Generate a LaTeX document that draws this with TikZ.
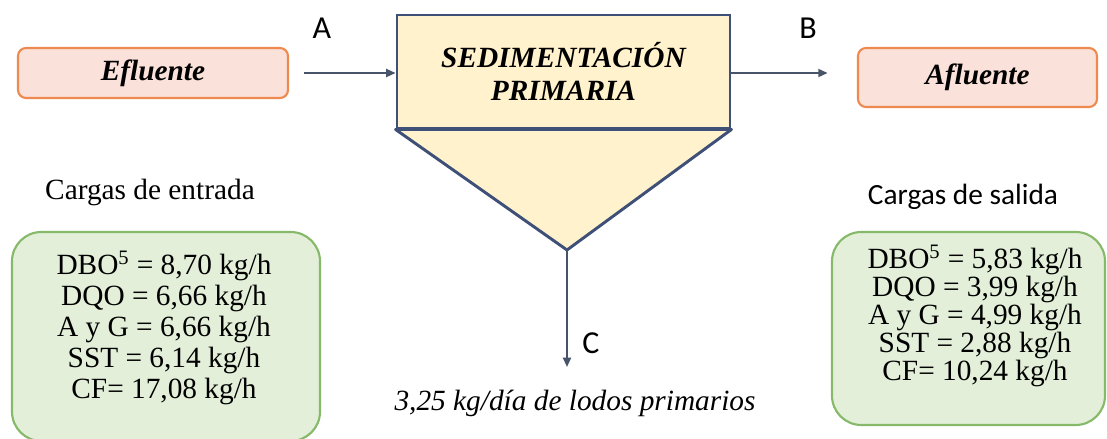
\documentclass[tikz,border=0pt]{standalone}
\usepackage{fontspec}
\setmainfont{Liberation Serif}
\newfontfamily\calfont{Carlito}
\usetikzlibrary{arrows.meta}
\definecolor{arrowgray}{HTML}{48546A}
\definecolor{edgeorange}{HTML}{EE8A4F}
\definecolor{fillpink}{HTML}{FAE1D9}
\definecolor{tankedge}{HTML}{3E5078}
\definecolor{tankfill}{HTML}{FFF2CC}
\definecolor{edgegreen}{HTML}{86B96A}
\definecolor{fillgreen}{HTML}{E3EFD9}
\begin{document}
\begin{tikzpicture}[x=0.75pt,y=-0.75pt,
  flow/.style={draw=arrowgray,line width=1.5pt,-{Triangle[length=7pt,width=6pt]}},
  endbox/.style={draw=edgeorange,fill=fillpink,line width=1.6pt,rounded corners=6pt,inner sep=0pt,
    font=\fontsize{22}{24}\selectfont\bfseries\itshape},
  tank/.style={draw=tankedge,fill=tankfill,line width=2.2pt},
  loadbox/.style={draw=edgegreen,fill=fillgreen,line width=1.6pt,rounded corners=22pt,inner sep=0pt},
  lbl/.style={font=\calfont\fontsize{24}{26}\selectfont},
  txt/.style={align=center,inner sep=0pt}]
\useasboundingbox (0,0) rectangle (1107,439);
\clip (0,0) rectangle (1107,439);
% entrada y salida
\node[endbox,minimum width=202.5pt,minimum height=37.5pt] (efl) at (153,73) {Efluente};
\node[endbox,minimum width=179.25pt,minimum height=44.25pt] (afl) at (977.5,77.5) {Afluente};
% sedimentador
\node[tank,minimum width=249.75pt,minimum height=84.75pt,inner sep=0pt,align=center,
  font=\fontsize{22}{24.5}\selectfont\bfseries\itshape] (sed) at (563.5,71.5) {SEDIMENTACIÓN\\PRIMARIA};
\coordinate (apex) at (567,250);
\filldraw[tank,line join=round] (sed.south west) -- (apex) -- (sed.south east) -- cycle;
\coordinate (cout) at (567,367);
% flujos
\draw[flow,shorten <=11pt] (efl.east) -- (efl.east -| sed.west);
\draw[flow,shorten >=22pt] (sed.east |- efl.east) -- (afl.west |- efl.east);
\draw[flow] (apex) -- (cout);
\node[lbl] (la) at (322,28) {A};
\node[lbl] (lb) at (808,28) {B};
\node[lbl] (lc) at (591,343) {C};
\node[txt,font=\fontsize{22}{24}\selectfont\itshape] (lodos) at (575,403) {3,25 kg/día de lodos primarios};
% cargas
\node[txt,font=\fontsize{22}{24}\selectfont] (tin) at (150,192) {Cargas de entrada};
\node[txt,font=\calfont\fontsize{22}{24}\selectfont] (tout) at (963,197) {Cargas de salida};
\node[loadbox,minimum width=231pt,minimum height=156.75pt] (bin) at (166,336.5) {};
\node[loadbox,minimum width=204.75pt,minimum height=144.75pt] (bout) at (968.5,328.5) {};
\node[txt,font=\fontsize{22}{23.25}\selectfont] (vin) at (164,327.5)
  {DBO\textsuperscript{5} = 8,70 kg/h\\DQO = 6,66 kg/h\\A y G = 6,66 kg/h\\SST = 6,14 kg/h\\CF= 17,08 kg/h};
\node[txt,font=\fontsize{22}{21}\selectfont] (vout) at (975,316)
  {DBO\textsuperscript{5} = 5,83 kg/h\\DQO = 3,99 kg/h\\A y G = 4,99 kg/h\\SST = 2,88 kg/h\\CF= 10,24 kg/h};
\end{tikzpicture}
\end{document}
